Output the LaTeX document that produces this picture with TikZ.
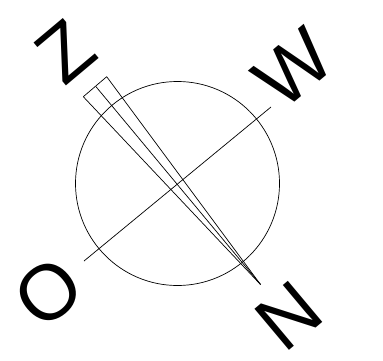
\documentclass[tikz,border=0pt]{standalone}
\usepackage{fontspec}
\setmainfont{Liberation Sans}

\begin{document}
\begin{tikzpicture}[x=1pt, y=-1pt, line width=0.7pt]
  \useasboundingbox (0,0) rectangle (383,361);
  \tikzset{wind/.style={font=\fontsize{78}{78}\selectfont, inner sep=0pt, rotate=40}}

  % Kreis
  \coordinate (c) at (177.5,183.5);
  \draw (c) circle (102pt);

  % Linie O -- W
  \coordinate (ow1) at (84,261);
  \coordinate (ow2) at (271,107);
  \draw (ow1) -- (ow2);

  % Nadel
  \coordinate (base1) at (83.3,96.7);
  \coordinate (base2) at (96,86.7);
  \coordinate (base3) at (106.7,76.7);
  \coordinate (tip) at (260.5,284.5);
  \draw (base1) -- (base3);
  \foreach \b in {base1,base2,base3} {
    \draw (\b) -- (tip);
  }

  % Himmelsrichtungen
  \node[wind] (z) at (65.4,51.7) {Z};
  \node[wind] (w) at (293,68) {W};
  \node[wind] (o) at (48,292) {O};
  \node[wind] (n) at (289,316) {N};
\end{tikzpicture}
\end{document}
